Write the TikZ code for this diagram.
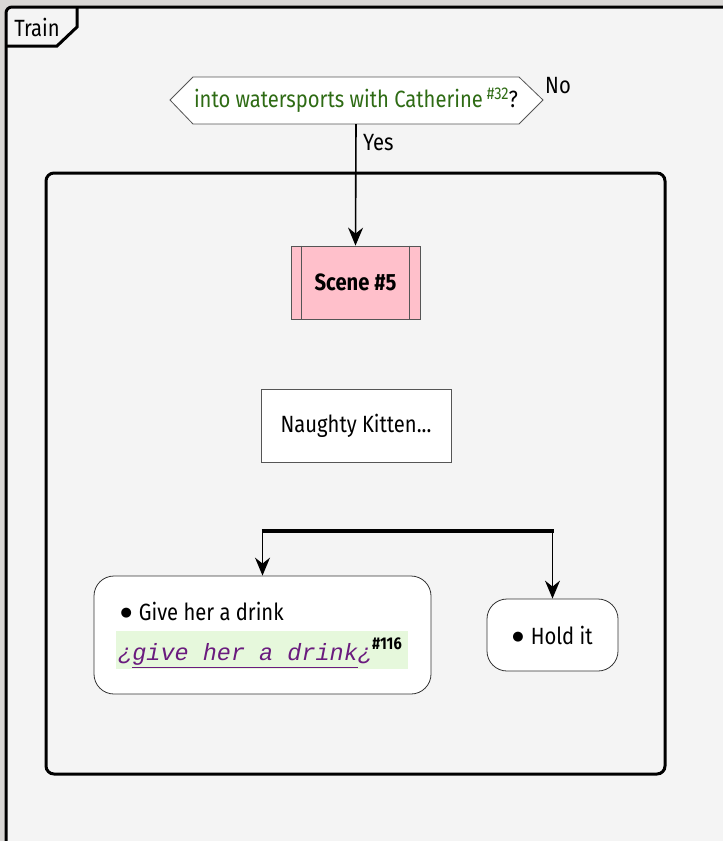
\documentclass[tikz,border=0pt]{standalone}
\usepackage{fontspec}
\setmainfont{Fira Sans}[FakeStretch=0.86]
\newfontfamily\codefont{Liberation Mono}
\newfontfamily\dotfont{DejaVu Sans}
\usetikzlibrary{arrows.meta}
\definecolor{pagegray}{HTML}{F4F4F4}
\definecolor{outgray}{HTML}{D9D7D5}
\definecolor{askgreen}{HTML}{2E6B14}
\definecolor{linkpurple}{HTML}{6A1B7E}
\definecolor{linkbg}{HTML}{E6F8DC}
\definecolor{scenepink}{HTML}{FFC0CB}
\definecolor{boxline}{HTML}{555555}
\newcommand{\bigtext}{\fontsize{23.5}{27}\selectfont}
\newcommand{\dotmark}{\raisebox{3.5pt}{\dotfont\fontsize{13}{13}\selectfont ●}\hspace{7pt}}

\tikzset{
  flow/.style={line width=1.6pt,-{Stealth[length=18pt,width=15pt,inset=6pt]}},
  plainbox/.style={draw=boxline,fill=white,line width=0.8pt,font=\bigtext},
  actbox/.style={draw=black!80,fill=white,line width=0.8pt,rounded corners=20pt}
}

\begin{document}
\begin{tikzpicture}[x=1pt,y=-1pt]%
  \coordinate (A) at (0,0); \coordinate (B) at (723,841);
  \path[use as bounding box,fill=outgray] (A) rectangle (B);
  % outer frame with its tab
  \draw[line width=3pt,rounded corners=6pt,fill=pagegray] (6,7) rectangle (740,860);
  \draw[line width=3pt] (77,7) -- (77,27) -- (57,46) -- (6,46);
  \node[font=\bigtext] (tab) at (37,27) {Train};
  % the question
  \draw[draw=boxline,fill=white,line width=0.8pt]
    (170,100) -- (193,77) -- (519,77) -- (543,100) -- (519,124) -- (193,124) -- cycle;
  \node[font=\bigtext] (ask) at (356,100)
    {\textcolor{askgreen}{into watersports with Catherine\,\raisebox{8pt}{\fontsize{17}{19}\selectfont\#32}}?};
  \coordinate (askS) at (356,124);
  \node[font=\bigtext] (no) at (558,86) {No};
  % inner frame
  \draw[line width=3pt,rounded corners=8pt] (46,173) rectangle (665,774);
  \node[plainbox,fill=scenepink,minimum width=129pt,minimum height=73pt,
        font=\bfseries\bigtext] (scene) at (355.5,282.5) {Scene \#5};
  \draw[boxline,line width=0.8pt] ([xshift=11pt]scene.north west) -- ([xshift=11pt]scene.south west)
    ([xshift=-11pt]scene.north east) -- ([xshift=-11pt]scene.south east);
  \draw[flow] (askS) -- node[pos=0.15,right=3pt,font=\bigtext,text=black] (yes) {Yes} (scene.north);
  \node[plainbox,minimum width=190pt,minimum height=73pt] (kitten) at (356,425.5) {Naughty Kitten...};
  % the fork
  \node[actbox,minimum width=337pt,minimum height=118pt] (give) at (262.5,635) {};
  \node[actbox,minimum width=131pt,minimum height=72pt] (hold) at (552.5,635)
    {\bigtext\dotmark Hold it};
  \coordinate (forkL) at (give.north |- 0,531);
  \coordinate (forkR) at (hold.north |- 0,531);
  \draw[line width=4pt] ([xshift=-1pt]forkL) -- ([xshift=1pt]forkR);
  \draw[flow] (forkL) -- (give.north);
  \draw[flow] (forkR) -- (hold.north);
  \node[font=\bigtext,anchor=west] (givetxt) at (117,611) {\dotmark Give her a drink};
  \node[fill=linkbg,minimum width=292pt,minimum height=38pt] (givelink) at (262,650) {};
  \node[anchor=west,inner sep=0pt] (linktxt) at (118,653)
    {\textcolor{linkpurple}{\codefont\itshape\fontsize{23.5}{26}\selectfont ¿\underline{give her a drink}¿}\raisebox{11pt}{\fontsize{17}{19}\selectfont\bfseries\#116}};
\end{tikzpicture}
\end{document}
